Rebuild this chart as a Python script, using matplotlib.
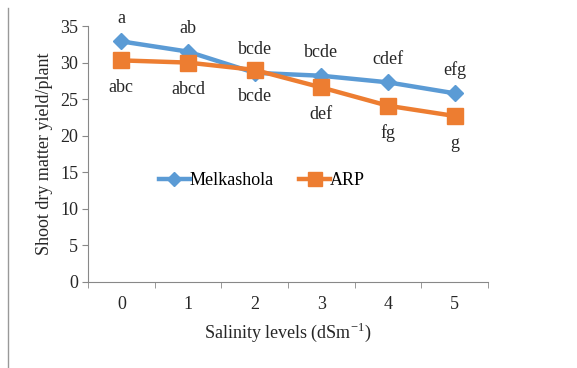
import matplotlib
matplotlib.use("Agg")
import matplotlib.pyplot as plt
from matplotlib.lines import Line2D

# salinity levels (dS/m)
levels = [0, 1, 2, 3, 4, 5]
melkashola = [32.9, 31.5, 28.6, 28.2, 27.3, 25.8]
arp = [30.3, 30.0, 29.0, 26.6, 24.1, 22.7]
# mean separation letters
melk_letters = ['a', 'ab', 'bcde', 'bcde', 'cdef', 'efg']
arp_letters = ['abc', 'abcd', 'bcde', 'def', 'fg', 'g']

plt.rcParams['font.family'] = ['Liberation Serif', 'DejaVu Serif']
plt.rcParams['mathtext.fontset'] = 'custom'
plt.rcParams['mathtext.rm'] = 'Liberation Serif'
fs = 13
txt = '#262626'

fig = plt.figure(figsize=(5.77, 3.68), dpi=100)
ax = fig.add_axes([0.1525, 0.2337, 0.6932, 0.6956])

ax.plot(levels, melkashola, color='#5B9BD5', lw=3.2, marker='D', ms=8,
        label='Melkashola', zorder=3)
ax.plot(levels, arp, color='#ED7D31', lw=3.2, marker='s', ms=11.5,
        label='ARP', zorder=4)

for x, y, t in zip(levels, melkashola, melk_letters):
    ax.annotate(t, (x, y), xytext=(0, 16.5), textcoords='offset points',
                ha='center', va='center', fontsize=fs, color=txt)
for x, y, t in zip(levels, arp, arp_letters):
    ax.annotate(t, (x, y), xytext=(0, -19.5), textcoords='offset points',
                ha='center', va='center', fontsize=fs, color=txt)

ax.set_xlim(-0.5, 5.5)
ax.set_ylim(0, 35)
ax.set_yticks(range(0, 36, 5))
ax.set_xticks(levels)
ax.set_xticks([i - 0.5 for i in range(7)], minor=True)
ax.tick_params(axis='x', which='major', length=0, pad=10)
ax.tick_params(axis='x', which='minor', length=4, color='#888888')
ax.tick_params(axis='y', length=4, color='#888888', pad=3)
ax.tick_params(labelsize=fs, labelcolor=txt)

for s in ['top', 'right']:
    ax.spines[s].set_visible(False)
for s in ['left', 'bottom']:
    ax.spines[s].set_color('#888888')

ax.set_xlabel(r'Salinity levels (dSm$^{\mathrm{-1}}$)', fontsize=fs, color=txt,
              labelpad=6)
ax.set_ylabel('Shoot dry matter yield/plant', fontsize=fs, color=txt,
              labelpad=5)

ax.legend(loc='center', bbox_to_anchor=(0.435, 0.395), ncol=2, frameon=False,
          fontsize=fs, handlelength=1.7, handletextpad=0.0, columnspacing=1.4,
          markerscale=0.9)

# frame line on the left edge
fig.add_artist(Line2D([0.014, 0.014], [0.0, 0.978], color='#999999', lw=1))

fig.savefig('out.png', dpi=100)
